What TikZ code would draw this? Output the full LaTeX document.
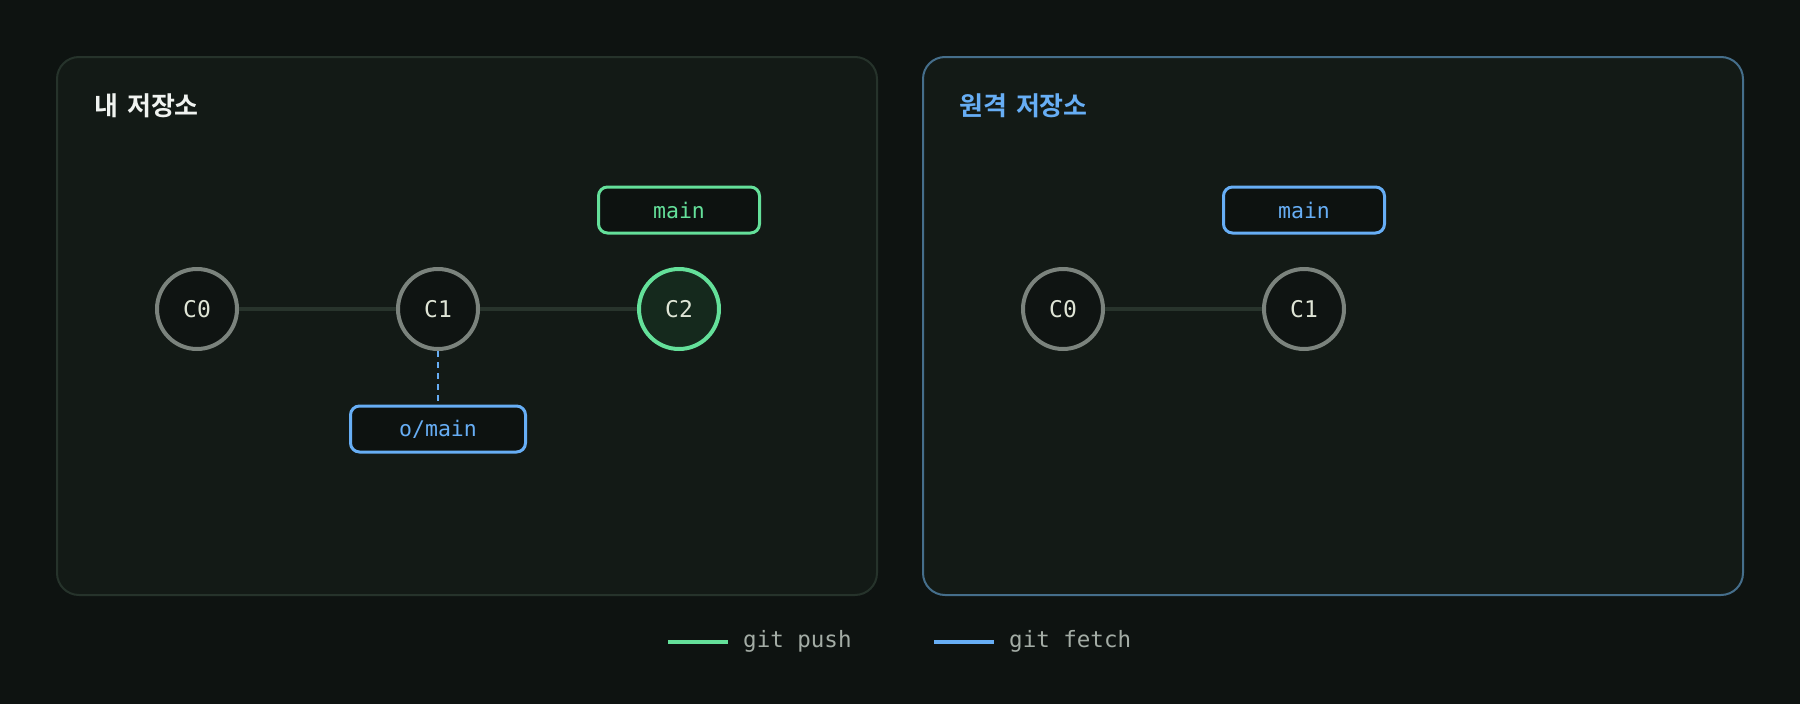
\documentclass[tikz,border=0pt]{standalone}
\usepackage{fontspec}
\newfontfamily\krfont{Noto Sans CJK KR}[BoldFont={* Bold}]
\setmonofont{DejaVu Sans Mono}
\definecolor{bg}{HTML}{0E1311}
\definecolor{panelfill}{HTML}{131A16}
\definecolor{leftborder}{HTML}{26332B}
\definecolor{rightborder}{HTML}{456E8B}
\definecolor{titlewhite}{HTML}{F0F3F0}
\definecolor{accblue}{HTML}{67AEF5}
\definecolor{accgreen}{HTML}{64E09A}
\definecolor{commitgray}{HTML}{7B837D}
\definecolor{commitfill}{HTML}{0F1412}
\definecolor{headfill}{HTML}{15291D}
\definecolor{boxfill}{HTML}{0D1210}
\definecolor{legendtext}{HTML}{A3ACA5}
\definecolor{committext}{HTML}{DFE5D6}
\definecolor{edgecol}{HTML}{28342C}
\tikzset{
  panelbox/.style={line width=2pt, fill=panelfill, rounded corners=22pt},
  commit/.style={circle, draw=commitgray, fill=commitfill, line width=4pt,
    minimum size=80pt, inner sep=0pt, text=committext,
    font=\ttfamily\fontsize{23}{23}\selectfont},
  headcommit/.style={commit, draw=accgreen, fill=headfill},
  refbox/.style={rectangle, rounded corners=9pt, line width=3pt, fill=boxfill,
    minimum height=46pt, inner sep=0pt, font=\ttfamily\fontsize{21.5}{21.5}\selectfont},
  greenref/.style={refbox, draw=accgreen, text=accgreen, minimum width=161pt},
  blueref/.style={refbox, draw=accblue, text=accblue},
  edge/.style={line width=4pt, draw=edgecol},
  title/.style={anchor=west, inner sep=0pt, font=\krfont\bfseries\fontsize{26}{26}\selectfont},
  legendline/.style={line width=4pt},
  legendlabel/.style={anchor=west, inner sep=0pt, text=legendtext,
    font=\ttfamily\fontsize{22.5}{22.5}\selectfont},
}
\begin{document}
\begin{tikzpicture}[x=1pt, y=-1pt]
\fill[bg] (0,0) rectangle (1800,704);
\useasboundingbox (0,0) rectangle (1800,704);
% panels
\draw[panelbox, draw=leftborder] (57,57) rectangle (877,595);
\draw[panelbox, draw=rightborder] (923,57) rectangle (1743,595);
\node[title, text=titlewhite] (lt) at (94,106) {내\hspace{0.12em} 저장소};
\node[title, text=accblue] (rt) at (959,106) {원격\hspace{0.12em} 저장소};
% local repo
\node[commit] (lc0) at (197,309) {C0};
\node[commit] (lc1) at (438,309) {C1};
\node[headcommit] (lc2) at (679,309) {C2};
\draw[edge] (lc0) -- (lc1);
\draw[edge] (lc1) -- (lc2);
\node[greenref] (lmain) at (679,210) {main};
\node[blueref, minimum width=175pt] (lomain) at (438,429) {o/main};
\draw[accblue, line width=2pt, dash pattern=on 6pt off 5pt] (lc1.south) -- (lomain.north);
% remote repo
\node[commit] (rc0) at (1063,309) {C0};
\node[commit] (rc1) at (1304,309) {C1};
\draw[edge] (rc0) -- (rc1);
\node[blueref, minimum width=161pt] (rmain) at (1304,210) {main};
% legend
\coordinate (pg1) at (668,642);
\coordinate (pg2) at (728,642);
\draw[legendline, accgreen] (pg1) -- (pg2);
\node[legendlabel] (lpush) at (743,641) {git push};
\coordinate (fb1) at (934,642);
\coordinate (fb2) at (994,642);
\draw[legendline, accblue] (fb1) -- (fb2);
\node[legendlabel] (lfetch) at (1009,641) {git fetch};
\end{tikzpicture}
\end{document}
